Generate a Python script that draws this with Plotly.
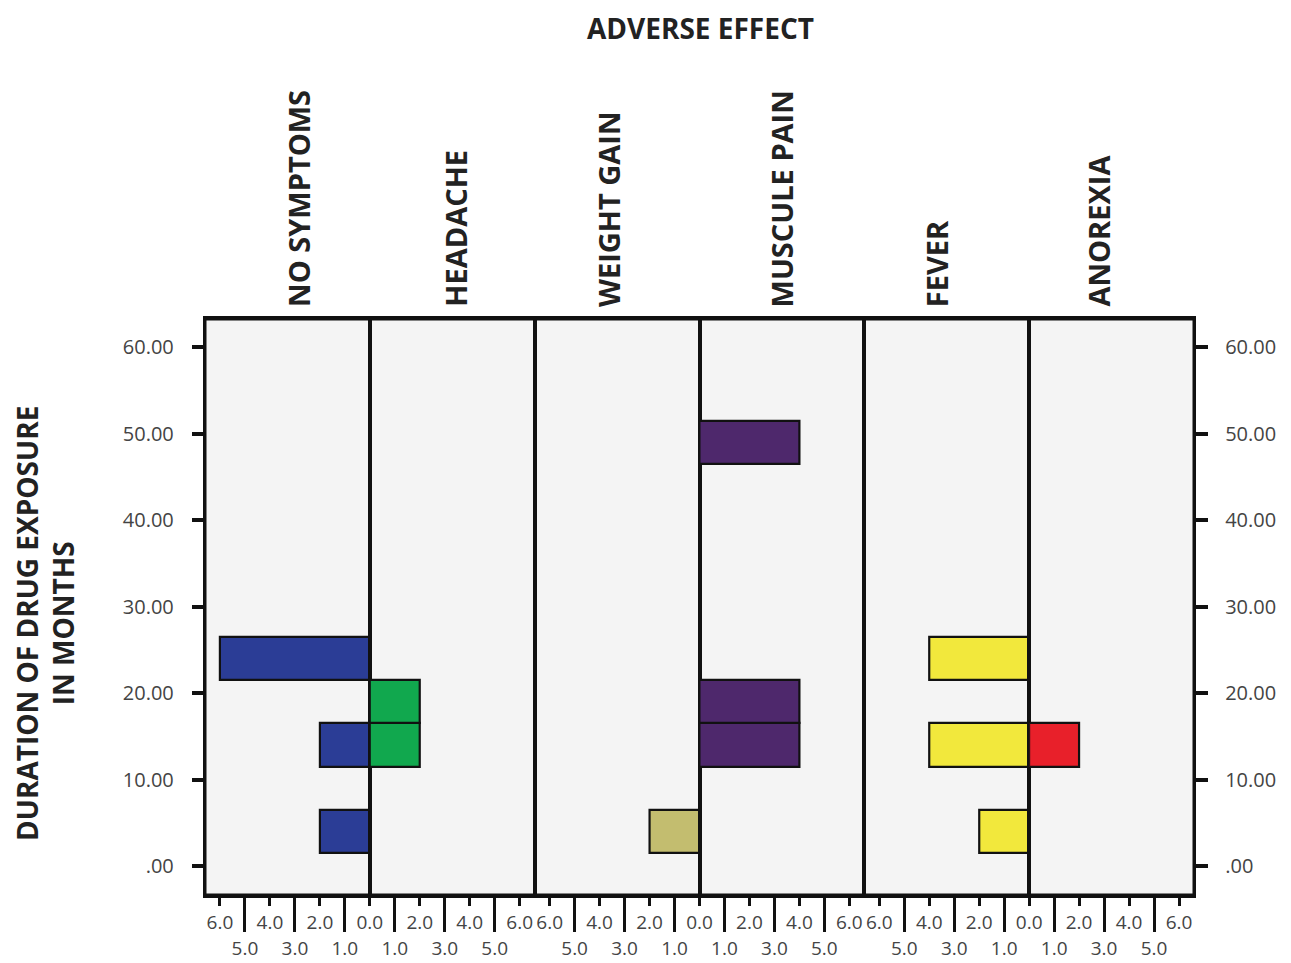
import plotly.graph_objects as go
from plotly.subplots import make_subplots

# ---------------- data ----------------
categories = ["NO SYMPTOMS", "HEADACHE", "WEIGHT GAIN", "MUSCULE PAIN", "FEVER", "ANOREXIA"]
duration_bins = [4, 14, 19, 24, 49]          # bin centres (months), bin width 5
no_symptoms = [2, 2, 0, 6, 0]
headache = [0, 2, 2, 0, 0]
weight_gain = [2, 0, 0, 0, 0]
muscle_pain = [0, 4, 4, 0, 4]
fever = [2, 4, 0, 4, 0]
anorexia = [0, 2, 0, 0, 0]
series = [no_symptoms, headache, weight_gain, muscle_pain, fever, anorexia]

y_tickvals = [0, 10, 20, 30, 40, 50, 60]
y_ticktext = [".00", "10.00", "20.00", "30.00", "40.00", "50.00", "60.00"]
x_odd_vals = [1, 3, 5]
x_odd_text = ["1.0", "3.0", "5.0"]
x_even_vals_left = [2, 4, 6]
x_even_text_left = ["2.0", "4.0", "6.0"]
x_even_vals_right = [0, 2, 4, 6]
x_even_text_right = ["0.0", "2.0", "4.0", "6.0"]

# ---------------- styles ----------------
colors = ["#2b3d96", "#11a84e", "#c3bd6f", "#4e286c", "#f2e83c", "#e8202a"]
label_xshift = [11, 3, -9, 0, -10, -14]
FONT = "Open Sans"
TXT = "#444444"
LINE = "#111111"
bin_width = 5
x_max = 6.6
y_range = [-3.35, 63.24]
TICKFONT = dict(family=FONT, size=20, color=TXT)
XTICKFONT = dict(family=FONT, size=19, color=TXT)
BIGFONT = dict(family=FONT, size=29, color="#222222", weight="bold")
TITLEFONT = dict(family=FONT, size=28, color="#222222", weight="bold")

fig = make_subplots(rows=1, cols=6, shared_yaxes=True, horizontal_spacing=0)

for i, (cat, vals) in enumerate(zip(categories, series)):
    ys = [b for b, v in zip(duration_bins, vals) if v > 0]
    xs = [v for v in vals if v > 0]
    fig.add_trace(go.Bar(
        x=xs, y=ys, orientation="h", width=bin_width,
        marker=dict(color=colors[i], line=dict(color=LINE, width=2.2)),
        name=cat, showlegend=False,
    ), row=1, col=i + 1)

for i in range(6):
    col = i + 1
    left = (i % 2 == 0)
    rng = [x_max, 0] if left else [0, x_max]
    ax_suffix = "" if col == 1 else str(col)
    # main x axis: odd ticks (long), labels on second row
    fig.update_xaxes(
        row=1, col=col, range=rng, autorange=False, automargin=False,
        showline=True, mirror=True, linecolor=LINE, linewidth=3,
        showgrid=False, zeroline=False,
        tickmode="array", tickvals=x_odd_vals, ticktext=x_odd_text,
        ticks="outside", ticklen=34, tickwidth=3, tickcolor=LINE,
        tickfont=XTICKFONT,
    )
    # overlay x axis: even ticks (short), labels on first row
    ov = 6 + col
    ev_vals = x_even_vals_left if left else x_even_vals_right
    ev_text = x_even_text_left if left else x_even_text_right
    fig.update_layout(**{
        f"xaxis{ov}": dict(
            overlaying="x" + ax_suffix, anchor="y" + ax_suffix, side="bottom",
            range=rng, autorange=False, automargin=False,
            showline=False, showgrid=False, zeroline=False,
            tickmode="array", tickvals=ev_vals, ticktext=ev_text,
            ticks="outside", ticklen=10, tickwidth=3, tickcolor=LINE,
            tickfont=XTICKFONT,
        )
    })
    fig.add_trace(go.Scatter(x=[None], y=[None], xaxis=f"x{ov}", yaxis="y" + ax_suffix,
                             showlegend=False, hoverinfo="skip", mode="markers"))
    fig.update_yaxes(
        row=1, col=col, range=y_range, autorange=False, automargin=False,
        showline=True, mirror=True, linecolor=LINE, linewidth=2.4,
        showgrid=False, zeroline=False,
        tickmode="array", tickvals=y_tickvals, ticktext=y_ticktext,
        ticks="", showticklabels=False,
        tickfont=TICKFONT,
    )

fig.update_yaxes(row=1, col=1, ticks="outside", ticklen=11, tickwidth=3.5, tickcolor=LINE,
                 showticklabels=True, ticklabelstandoff=14)
fig.update_yaxes(row=1, col=6, side="right", ticks="outside", ticklen=12, tickwidth=3.5,
                 tickcolor=LINE, showticklabels=True, ticklabelstandoff=13)

annotations = []
for i, cat in enumerate(categories):
    xref = "x domain" if i == 0 else f"x{i + 1} domain"
    annotations.append(dict(
        text=cat, xref=xref, yref="paper", x=0.5, y=1, xshift=label_xshift[i], yshift=10,
        xanchor="center", yanchor="bottom", textangle=-90, showarrow=False,
        font=BIGFONT,
    ))
annotations.append(dict(
    text="ADVERSE EFFECT", xref="paper", yref="paper", x=0.5015, y=1.505,
    xanchor="center", yanchor="middle", showarrow=False, font=TITLEFONT,
))
annotations.append(dict(
    text="DURATION OF DRUG EXPOSURE<br>IN MONTHS", xref="paper", yref="paper",
    x=-0.1618, y=0.4722, xanchor="center", yanchor="middle", textangle=-90,
    showarrow=False, align="center", font=TITLEFONT,
))

# outer frame of the plotting area
shapes = [dict(type="rect", xref="paper", yref="paper", x0=0, x1=1, y0=0, y1=1,
               line=dict(color=LINE, width=3), fillcolor="rgba(0,0,0,0)", layer="above")]

# page body has an 8px default margin: size the figure so the plot area lands
# where it sits in the 1291x963 reference
fig.update_layout(
    width=1283, height=955,
    margin=dict(l=197, r=97, t=311, b=68),
    plot_bgcolor="#f4f4f4", paper_bgcolor="white",
    bargap=0, barmode="overlay",
    annotations=annotations, shapes=shapes,
    font=dict(family=FONT),
)

fig.write_html("out.html")
